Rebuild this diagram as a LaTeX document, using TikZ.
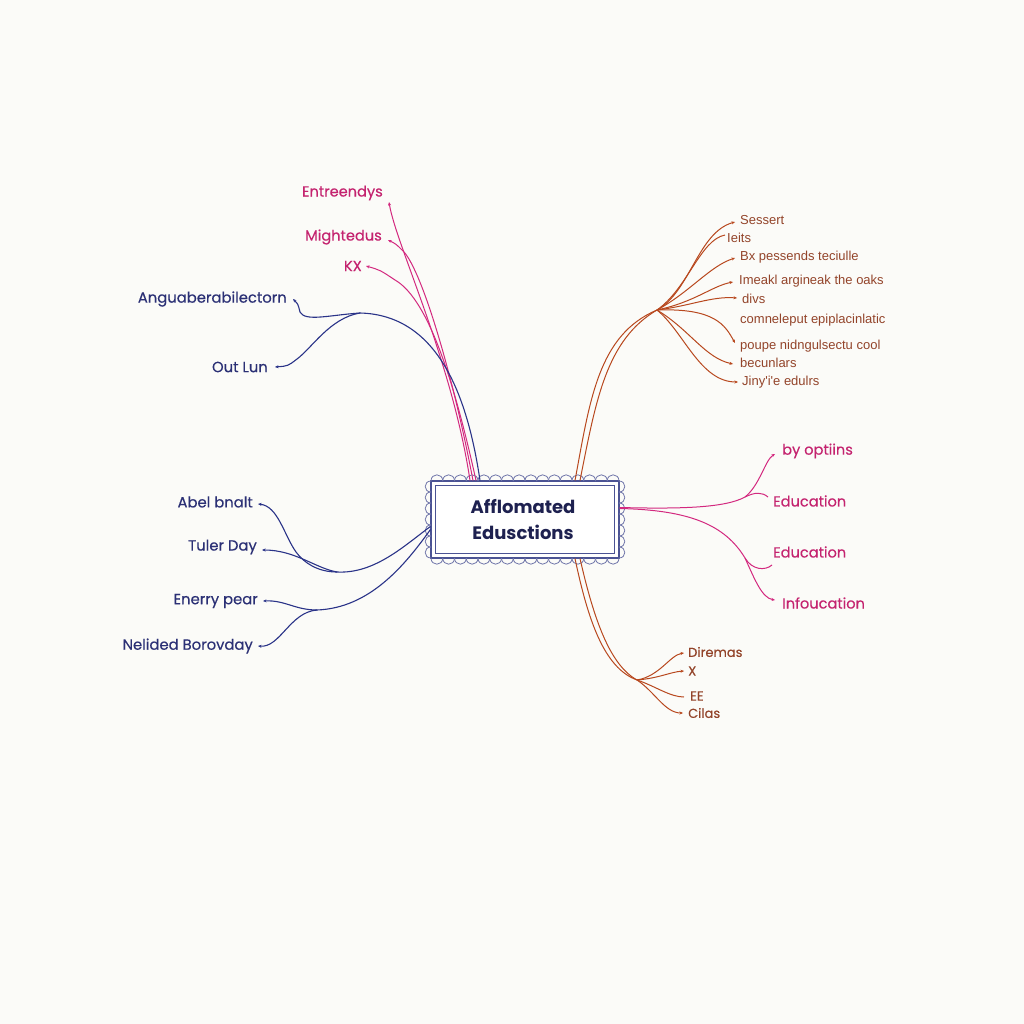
\documentclass[tikz,border=0pt]{standalone}
\usepackage{fontspec}
\setmainfont{Poppins}
\newfontfamily\popm[FakeBold=0.35]{Poppins}
\newfontfamily\arialf{Liberation Sans}
\usetikzlibrary{arrows.meta}
\definecolor{bg}{HTML}{FBFBF8}
\definecolor{navyl}{HTML}{2A3388}
\definecolor{navyt}{HTML}{2B3075}
\definecolor{magl}{HTML}{D3297F}
\definecolor{magt}{HTML}{C4236F}
\definecolor{brl}{HTML}{B8481E}
\definecolor{brt}{HTML}{93442A}
\definecolor{boxl}{HTML}{4B5394}
\definecolor{scal}{HTML}{7076AA}
\definecolor{ctext}{HTML}{1E2150}
\begin{document}
\begin{tikzpicture}[x=1pt,y=1pt,yscale=-1,
  nv/.style={draw=navyl,line width=1.1pt},
  mg/.style={draw=magl,line width=1pt},
  br/.style={draw=brl,line width=1pt},
  tip/.style={-{Stealth[length=3.5pt,width=3pt]}},
  nvt/.style={text=navyt,inner sep=0pt,font=\popm\fontsize{14.8}{16}\selectfont},
  mgt/.style={text=magt,inner sep=0pt,font=\popm\fontsize{14.6}{16}\selectfont},
  brt1/.style={text=brt,inner sep=0pt,font=\arialf\fontsize{13}{14}\selectfont},
  brt2/.style={text=brt,inner sep=0pt,font=\popm\fontsize{13}{15}\selectfont},
  scl/.style={draw=scal,line width=0.8pt}]
\useasboundingbox[fill=bg] (0,0) rectangle (1024,1024);

% central box
\node[draw=boxl,line width=1.1pt,minimum width=188pt,minimum height=77pt,inner sep=0pt,
      fill=white] (box) at (525,519.5) {};
\draw[boxl,line width=1pt] (435.5,485.5) rectangle (614.5,553.5);
\foreach \i in {0,...,15}{
  \draw[scl] (431+\i*11.75,481) to[out=-90,in=-90,looseness=1.8] (431+\i*11.75+11.75,481);
  \draw[scl] (431+\i*11.75,558) to[out=90,in=90,looseness=1.8] (431+\i*11.75+11.75,558);
}
\foreach \i in {0,...,6}{
  \draw[scl] (431,481+\i*11) to[out=180,in=180,looseness=1.8] (431,481+\i*11+11);
  \draw[scl] (619,481+\i*11) to[out=0,in=0,looseness=1.8] (619,481+\i*11+11);
}
\node[text=ctext,font=\bfseries\fontsize{18}{26}\selectfont,align=center] (title) at (523,519.5) {Afflomated\\Edusctions};

% ---------- labels ----------
\node[mgt,anchor=east] (ent) at (383,193) {Entreendys};
\node[mgt,anchor=east] (mig) at (382,237) {Mightedus};
\node[mgt,anchor=east] (kx) at (362,266) {KX};
\node[nvt,anchor=east] (ang) at (287,299) {Anguaberabilectorn};
\node[nvt,anchor=east] (out) at (268,367) {Out Lun};
\node[nvt,anchor=east] (abel) at (253,502) {Abel bnalt};
\node[nvt,anchor=east] (tul) at (257,547) {Tuler Day};
\node[nvt,anchor=east] (ene) at (258,601) {Enerry pear};
\node[nvt,anchor=east] (nel) at (253,646) {Nelided Borovday};

\node[brt1,anchor=west] (ses) at (740,220) {Sessert};
\node[brt1,anchor=west] (iei) at (727,238) {Ieits};
\node[brt1,anchor=west] (bx) at (740,257) {Bx pessends teciulle};
\node[brt1,anchor=west] (ime) at (739,281) {Imeakl argineak the oaks};
\node[brt1,anchor=west] (div) at (742,299) {divs};
\node[brt1,anchor=west] (com) at (740,320) {comneleput epiplacinlatic};
\node[brt1,anchor=west] (pou) at (740,346) {poupe nidngulsectu cool};
\node[brt1,anchor=west] (bec) at (740,363) {becunlars};
\node[brt1,anchor=west] (jin) at (742,382) {Jiny'i'e edulrs};

\node[mgt,anchor=west] (byo) at (782,451) {by optiins};
\node[mgt,anchor=west] (ed1) at (773,501) {Education};
\node[mgt,anchor=west] (ed2) at (773,552) {Education};
\node[mgt,anchor=west] (inf) at (782,603) {Infoucation};

\node[brt2,anchor=west] (dir) at (688,652) {Diremas};
\node[brt2,anchor=west] (xx) at (688,671) {X};
\node[brt2,anchor=west] (ee) at (690,696) {EE};
\node[brt2,anchor=west] (cil) at (688,713) {Cilas};

% ---------- junctions ----------
\coordinate (jNL) at (360,313);
\coordinate (jB1) at (337,572);
\coordinate (jB2) at (317,610);
\coordinate (hub) at (657,310);
\coordinate (jM1) at (745,497);
\coordinate (jM2) at (745,558);
\coordinate (jBR) at (637,680);

% ---------- top-left ----------
\draw[mg,tip] ([xshift=-55pt]box.north) .. controls (452,360) and (396,245) .. ([shift={(6pt,9pt)}]ent.east);
\draw[mg,tip] ([xshift=-52pt]box.north) .. controls (452,370) and (420,265) .. (402,250) .. controls (396,244) .. ([shift={(6pt,3pt)}]mig.east);
\draw[mg,tip] ([xshift=-49pt]box.north) .. controls (456,390) and (430,300) .. (395,280) .. controls (380,270) .. ([xshift=4pt]kx.east);
\draw[nv] ([xshift=-45pt]box.north) .. controls (468,400) and (440,315) .. (jNL);
\draw[nv,tip] (jNL) .. controls (330,315) and (305,322) .. (300,312) .. controls (298,304) .. ([xshift=6pt]ang.east);
\draw[nv,tip] (jNL) .. controls (330,318) and (312,348) .. (297,359) .. controls (288,366) .. ([xshift=7pt]out.east);

% ---------- bottom-left ----------
\draw[nv] (jB1) .. controls (375,574) and (405,545) .. ([yshift=7pt]box.west);
\draw[nv] (jB2) .. controls (370,608) and (405,565) .. ([yshift=10pt]box.west);
\draw[nv,tip] (jB1) .. controls (318,572) and (304,563) .. (296,552) .. controls (284,535) and (278,506) .. ([shift={(5pt,2pt)}]abel.east);
\draw[nv,tip] (jB1) .. controls (315,568) and (295,550) .. ([shift={(5pt,3pt)}]tul.east);
\draw[nv,tip] (jB2) .. controls (295,610) and (285,600) .. ([xshift=5pt]ene.east);
\draw[nv,tip] (jB2) .. controls (290,612) and (280,648) .. ([xshift=5pt]nel.east);

% ---------- top-right ----------
\draw[br] ([xshift=50pt]box.north) .. controls (590,400) and (598,335) .. (hub);
\draw[br] ([xshift=55pt]box.north) .. controls (596,400) and (606,340) .. (hub);
\draw[br,tip] (hub) .. controls (690,292) and (698,232) .. ([shift={(-5pt,2pt)}]ses.west);
\draw[br] (hub) .. controls (688,288) and (700,240) .. ([shift={(-2pt,-3pt)}]iei.west);
\draw[br,tip] (hub) .. controls (690,292) and (710,266) .. ([shift={(-5pt,1pt)}]bx.west);
\draw[br,tip] (hub) .. controls (695,302) and (712,286) .. ([shift={(-6pt,1pt)}]ime.west);
\draw[br,tip] (hub) .. controls (690,306) and (712,296) .. ([shift={(-5pt,-1pt)}]div.west);
\draw[br,tip] (hub) .. controls (715,308) and (725,325) .. ([shift={(-5pt,-3pt)}]pou.west);
\draw[br,tip] (hub) .. controls (690,330) and (705,358) .. ([shift={(-7pt,1pt)}]bec.west);
\draw[br,tip] (hub) .. controls (684,332) and (700,382) .. ([xshift=-4pt]jin.west);

% ---------- right magenta ----------
\draw[mg] ([yshift=-12pt]box.east) .. controls (680,509) and (725,508) .. (jM1);
\draw[mg] ([yshift=-11pt]box.east) .. controls (690,510) and (725,525) .. (jM2);
\draw[mg,tip] (jM1) .. controls (760,485) and (765,460) .. ([shift={(-7pt,3pt)}]byo.west);
\draw[mg] (jM1) .. controls (755,492) and (762,492) .. ([shift={(-5pt,-4pt)}]ed1.west);
\draw[mg] (jM2) .. controls (752,570) and (765,571) .. ([shift={(-1pt,13pt)}]ed2.west);
\draw[mg,tip] (jM2) .. controls (755,580) and (762,598) .. ([shift={(-7pt,-3pt)}]inf.west);

% ---------- bottom-right ----------
\draw[br] ([xshift=50pt]box.south) .. controls (588,620) and (604,668) .. (jBR);
\draw[br] ([xshift=55pt]box.south) .. controls (594,620) and (610,665) .. (jBR);
\draw[br,tip] (jBR) .. controls (660,676) and (670,655) .. ([shift={(-4pt,1pt)}]dir.west);
\draw[br,tip] (jBR) .. controls (660,678) and (670,672) .. ([xshift=-4pt]xx.west);
\draw[br] (jBR) .. controls (655,686) and (670,697) .. ([shift={(-6pt,1pt)}]ee.west);
\draw[br,tip] (jBR) .. controls (655,692) and (665,713) .. ([xshift=-5pt]cil.west);
\end{tikzpicture}
\end{document}
